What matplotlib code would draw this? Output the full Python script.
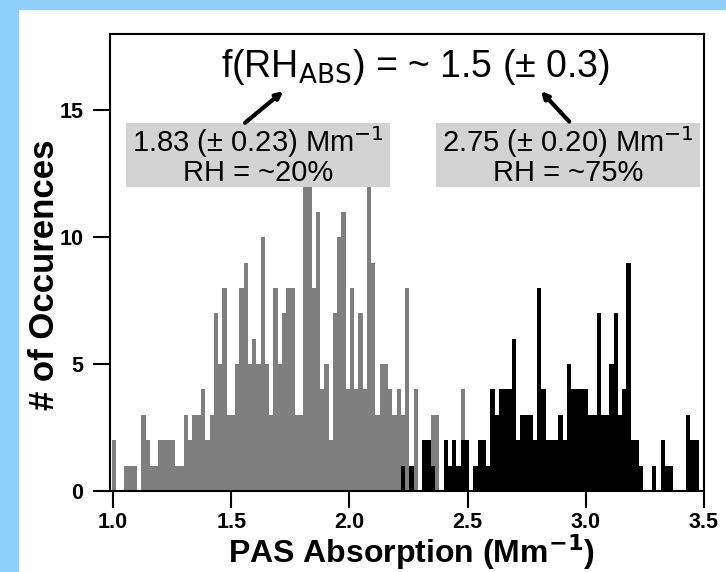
import numpy as np
import matplotlib
matplotlib.use("Agg")
import matplotlib.pyplot as plt
from matplotlib.patches import Rectangle

# ------------------------------
# Histogram data (counts per bin)
# ------------------------------
bin_width = 0.018
gray_start = 0.994    # left edge of first RH ~20% bin
black_start = 2.218   # left edge of first RH ~75% bin

# RH ~20 %
gray_counts = [2, 0, 0, 1, 1, 1, 0, 3, 2, 1,
               1, 2, 2, 2, 2, 1, 1, 3, 2, 3,
               3, 4, 2, 3, 7, 5, 8, 3, 3, 5,
               8, 9, 5, 6, 5, 10, 5, 3, 8, 5,
               7, 8, 8, 3, 3, 12, 12, 8, 11, 4,
               5, 2, 7, 10, 11, 4, 8, 4, 7, 4,
               12, 9, 3, 5, 5, 4, 3, 4, 3, 8,
               0, 4, 0, 0, 0, 3, 3, 0, 0, 0,
               0, 0, 4]

# RH ~75 %
black_counts = [1, 0, 1, 0, 0, 2, 2, 1, 0, 0,
                2, 1, 2, 1, 2, 2, 0, 1, 2, 2,
                1, 4, 3, 4, 4, 4, 6, 2, 3, 3,
                3, 2, 8, 4, 2, 2, 2, 3, 2, 5,
                4, 4, 4, 4, 3, 3, 7, 3, 3, 5,
                7, 3, 4, 9, 2, 2, 1, 0, 0, 1,
                0, 2, 1, 1, 0, 0, 0, 3, 2, 2]

x_ticks = [1.0, 1.5, 2.0, 2.5, 3.0, 3.5]
y_ticks = [0, 5, 10, 15]

gray_edges = gray_start + bin_width * np.arange(len(gray_counts) + 1)
black_edges = black_start + bin_width * np.arange(len(black_counts) + 1)

# ------------------------------
# Figure
# ------------------------------
plt.rcParams['font.family'] = ['Liberation Sans', 'DejaVu Sans']

fig = plt.figure(figsize=(7.26, 5.72), dpi=100, facecolor='white')
W, H = 726, 572
blue = '#90cefc'
# blue frame strips on top and left
fig.patches.append(Rectangle((0, 1 - 9 / H), 1, 9 / H, transform=fig.transFigure,
                             color=blue, zorder=0))
fig.patches.append(Rectangle((0, 0), 18 / W, 1, transform=fig.transFigure,
                             color=blue, zorder=0))

ax = fig.add_axes([110 / W, 1 - 491 / H, 594 / W, 457 / H])
ax.set_facecolor('white')

ax.stairs(gray_counts, gray_edges, fill=True, color='#7f7f7f', lw=0, zorder=2)
ax.stairs(black_counts, black_edges, fill=True, color='black', lw=0, zorder=3)

ax.set_xlim(0.987, 3.5)
ax.set_ylim(0, 18)
ax.set_xticks(x_ticks)
ax.set_xticklabels([f'{t:.1f}' for t in x_ticks])
ax.set_yticks(y_ticks)
ax.tick_params(axis='both', direction='out', length=12, width=1.5, labelsize=15.5)
ax.tick_params(axis='x', pad=3)
ax.tick_params(axis='y', pad=7)
for lbl in ax.get_xticklabels() + ax.get_yticklabels():
    lbl.set_fontweight('bold')
for sp in ax.spines.values():
    sp.set_linewidth(1.5)

ax.set_xlabel('PAS Absorption (Mm$^{\\mathbf{-1}}$)', fontsize=23, fontweight='bold')
ax.xaxis.set_label_coords(0.508, -0.09)
ax.set_ylabel('# of Occurences', fontsize=25, fontweight='bold')
ax.yaxis.set_label_coords(-0.082, 0.473)

# ------------------------------
# Annotations
# ------------------------------
ax.text(2.278, 16.3, 'f(RH$_{\\mathrm{ABS}}$) = ~ 1.5 (± 0.3)', fontsize=27,
        ha='center', va='baseline', zorder=5)

box_color = '#d3d3d3'
ax.add_patch(Rectangle((1.055, 11.97), 1.117, 2.52, color=box_color, lw=0, zorder=4))
ax.add_patch(Rectangle((2.366, 11.97), 1.117, 2.52, color=box_color, lw=0, zorder=4))

ax.text(1.613, 13.23, '1.83 (± 0.23) Mm$^{-1}$\nRH = ~20%', fontsize=21,
        ha='center', va='center', multialignment='center', linespacing=0.95,
        zorder=5)
ax.text(2.925, 13.23, '2.75 (± 0.20) Mm$^{-1}$\nRH = ~75%', fontsize=21,
        ha='center', va='center', multialignment='center', linespacing=0.95,
        zorder=5)

arrow = dict(arrowstyle='-|>', lw=3, color='black', mutation_scale=10,
             shrinkA=0, shrinkB=0)
ax.annotate('', xy=(1.72, 15.75), xytext=(1.558, 14.5), arrowprops=arrow, zorder=5)
ax.annotate('', xy=(2.81, 15.75), xytext=(2.93, 14.55), arrowprops=arrow, zorder=5)

fig.savefig('out.png', dpi=100, facecolor=fig.get_facecolor())
